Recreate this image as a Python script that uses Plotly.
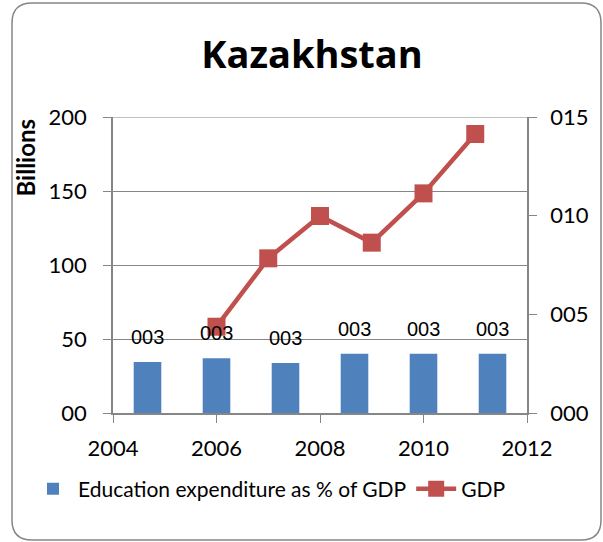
import plotly.graph_objects as go

# data
gdp_years = [2006, 2007, 2008, 2009, 2010, 2011]
gdp_billions = [58.3, 104.5, 133.1, 115.1, 148.4, 188.5]

edu_cats = ["2006", "2007", "2008", "2009", "2010", "2011"]
edu_share = [0.0259, 0.0277, 0.0253, 0.0300, 0.0300, 0.0300]
edu_labels = ["003", "003", "003", "003", "003", "003"]

left_ticks = [0, 50, 100, 150, 200]
left_text = ["00", "50", "100", "150", "200"]
right_ticks = [0, 0.05, 0.10, 0.15]
right_text = ["000", "005", "010", "015"]

W, H = 603, 542
L, R, T, B = 113, 527, 117, 413
FONT = "Lato"
GREY = "#868686"


def px(x):
    return (x - L) / (R - L)


def py(y):
    return (B - y) / (B - T)


bars = go.Bar(
    x=edu_cats, y=edu_share, xaxis="x2", yaxis="y2",
    name="Education expenditure as % of GDP",
    marker=dict(color="#4F81BD", line=dict(width=0)),
    width=0.4,
)
line = go.Scatter(
    x=gdp_years, y=gdp_billions, mode="lines+markers", name="GDP",
    line=dict(color="#C0504D", width=4.5),
    marker=dict(symbol="square", size=18, color="#C0504D"),
)

fig = go.Figure(data=[bars, line])

# bar value labels
for i, (v, t) in enumerate(zip(edu_share, edu_labels)):
    fig.add_annotation(x=i, y=v, xref="x2", yref="y2", text=t, showarrow=False,
                       yanchor="bottom", yshift=12,
                       font=dict(family="Liberation Sans, Arial", size=20, color="black"))

# top gridline (plotly drops the one on the range edge)
fig.add_shape(type="line", xref="paper", yref="y", x0=0, x1=1, y0=left_ticks[-1], y1=left_ticks[-1],
              line=dict(color=GREY, width=1), layer="below")

# rounded chart border
x0, x1, y0, y1, r = 12, 601, 3, 540, 20
path = (f"M {px(x0 + r)} {py(y0)} L {px(x1 - r)} {py(y0)} "
        f"Q {px(x1)} {py(y0)} {px(x1)} {py(y0 + r)} L {px(x1)} {py(y1 - r)} "
        f"Q {px(x1)} {py(y1)} {px(x1 - r)} {py(y1)} L {px(x0 + r)} {py(y1)} "
        f"Q {px(x0)} {py(y1)} {px(x0)} {py(y1 - r)} L {px(x0)} {py(y0 + r)} "
        f"Q {px(x0)} {py(y0)} {px(x0 + r)} {py(y0)} Z")
fig.add_shape(type="path", path=path, xref="paper", yref="paper",
              line=dict(color=GREY, width=1.5), layer="below")

fig.add_annotation(x=px(24.5), y=1.0, xref="paper", yref="paper", text="<b>Billions</b>",
                   textangle=-90, showarrow=False, xanchor="center", yanchor="top",
                   font=dict(family=FONT, size=24, color="black"))

fig.update_layout(
    width=W, height=H,
    margin=dict(l=L, r=W - R, t=T, b=H - B, autoexpand=False),
    paper_bgcolor="white", plot_bgcolor="white",
    font=dict(family=FONT, size=22, color="black"),
    title=dict(text="<b>Kazakhstan</b>", x=312 / W, xanchor="center",
               y=1 - 55 / H, yanchor="middle", font=dict(family="Open Sans", size=38)),
    showlegend=True,
    legend=dict(orientation="h", x=px(28), xanchor="left", y=py(489), yanchor="middle",
                font=dict(family=FONT, size=21), itemwidth=40, traceorder="normal",
                bgcolor="rgba(0,0,0,0)"),
    xaxis=dict(range=[2004, 2012], tickvals=[2004, 2006, 2008, 2010, 2012],
               ticks="outside", ticklen=8, tickcolor=GREY, showline=True, linecolor=GREY,
               linewidth=1.5, showgrid=False, zeroline=False, automargin=False,
               ticklabelstandoff=7),
    xaxis2=dict(type="category", overlaying="x", range=[-0.5, 5.5], visible=False),
    yaxis=dict(range=[0, 200], tickvals=left_ticks, ticktext=left_text,
               ticks="outside", ticklen=8, tickcolor=GREY, showline=True, linecolor=GREY,
               linewidth=1.5, showgrid=True, gridcolor=GREY, gridwidth=1, zeroline=False,
               ticklabelstandoff=12, automargin=False),
    yaxis2=dict(range=[0, 0.15], tickvals=right_ticks, ticktext=right_text,
                overlaying="y", side="right", ticks="outside", ticklen=8, tickcolor=GREY,
                showline=True, linecolor=GREY, linewidth=1.5, showgrid=False, zeroline=False,
                ticklabelstandoff=9, automargin=False),
    bargap=0.6,
)

fig.write_html("out.html", config={"displayModeBar": False},
               post_script="document.body.style.margin='0';")
